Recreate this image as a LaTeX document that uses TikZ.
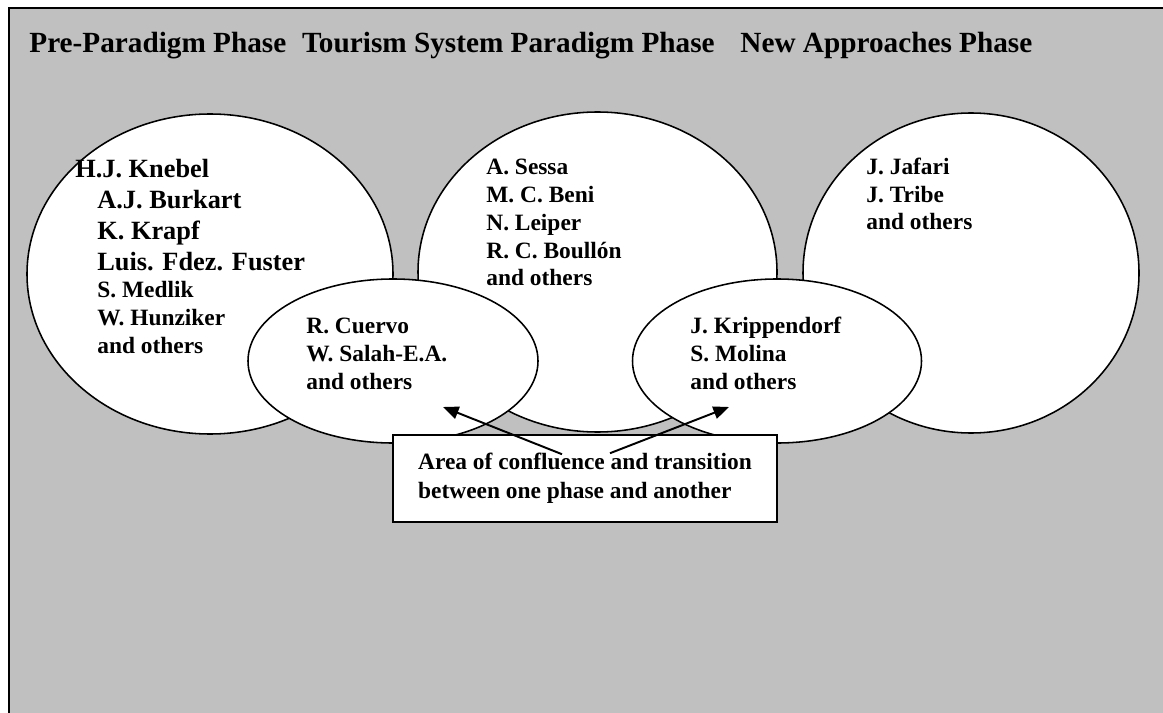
\documentclass[tikz,border=0pt]{standalone}
\usepackage{fontspec}
\setmainfont{Liberation Serif}
\usetikzlibrary{shapes.geometric, arrows.meta, positioning}
\definecolor{panelgray}{HTML}{C0C0C0}
\newcommand{\pxlen}{0.5128pt}
\tikzset{
    >={Triangle[length=8pt, width=6.5pt]}, % solid arrow heads
    phase/.style 2 args={ellipse, draw, fill=white, line width=0.8pt, inner sep=0pt,
        minimum width=#1*\pxlen, minimum height=#2*\pxlen}, % the white phase bubbles
    title/.style={anchor=base west, inner sep=0pt, font=\bfseries\fontsize{15}{18}\selectfont},
    names/.style={anchor=base west, align=left, inner sep=0pt, font=\bfseries\fontsize{12}{14.3}\selectfont}, % base = last line
    bignames/.style={names, font=\bfseries\fontsize{13.5}{15.9}\selectfont},
    note/.style={draw, fill=white, line width=0.8pt, align=left, inner sep=0pt,
        minimum width=384*\pxlen, minimum height=87*\pxlen, font=\bfseries\fontsize{12}{14.9}\selectfont},
    arrowline/.style={->, line width=1pt},
}

\begin{document}
\begin{tikzpicture}[x=\pxlen, y=-\pxlen]
    \useasboundingbox (0,0) rectangle (1163,713);
    \fill[panelgray] (9,8) rectangle (1163,713);
    \draw[line width=1pt] (1163,8) -- (9,8) -- (9,713);

    % phase headings
    \node[title] (ppTitle) at (29,53) {Pre-Paradigm Phase};
    \node[title] (tspTitle) at ([shift={(15,0)}]ppTitle.base east) {Tourism System Paradigm Phase};
    \node[title] (napTitle) at ([shift={(25,0)}]tspTitle.base east) {New Approaches Phase};

    % the three phases and the two overlaps
    \node[phase={366}{320}] (pre) at (210,274) {};
    \node[phase={359}{320}] (tsp) at (597.5,272) {};
    \node[phase={336}{320}] (nap) at (971,273) {};
    \node[phase={290}{164}] (confL) at (393,361) {};
    \node[phase={289}{164}] (confR) at (777,361) {};

    \node[bignames] (preTop) at ([shift={(-113,-3)}]pre.center)
        {\hspace*{-11.3pt}H.J. Knebel\\ A.J. Burkart\\ K. Krapf\\ Luis. Fdez. Fuster};
    \node[names] (preLow) at ([shift={(-113,79)}]pre.center) {S. Medlik\\ W. Hunziker\\ and others};
    \node[names] (tspNames) at ([shift={(-111.5,14)}]tsp.center)
        {A. Sessa\\ M. C. Beni\\ N. Leiper\\ R. C. Boullón\\ and others};
    \node[names] (napNames) at ([shift={(-105,-43)}]nap.center) {J. Jafari\\ J. Tribe\\ and others};
    \node[names] (confLNames) at ([shift={(-87,28)}]confL.center) {R. Cuervo\\ W. Salah-E.A.\\ and others};
    \node[names] (confRNames) at ([shift={(-87,28)}]confR.center) {J. Krippendorf\\ S. Molina\\ and others};

    % caption box and its arrows
    \node[note] (area) at (585,478.5) {Area of confluence and transition\\ between one phase and another};
    \coordinate (tailL) at ([shift={(-23,20)}]area.north);
    \coordinate (tailR) at ([shift={(25,19)}]area.north);
    \coordinate (tipL) at ([shift={(50,46)}]confL.center);
    \coordinate (tipR) at ([shift={(-48,46)}]confR.center);
    \draw[arrowline] (tailL) -- (tipL);
    \draw[arrowline] (tailR) -- (tipR);
\end{tikzpicture}
\end{document}
